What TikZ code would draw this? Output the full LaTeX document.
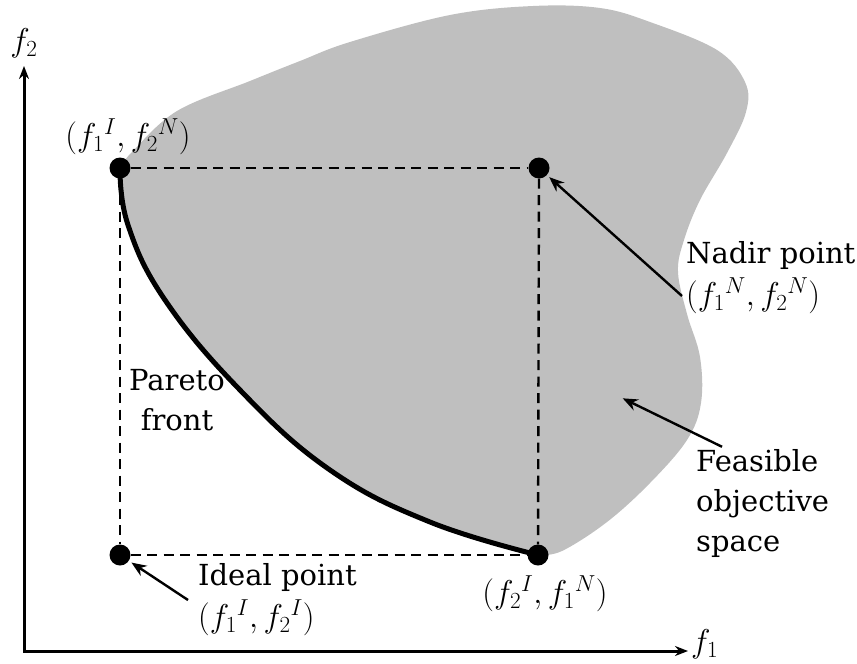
\RequirePackage{fix-cm}
\documentclass[tikz,border=0pt]{standalone}
\usepackage[no-math]{fontspec}
\setmainfont{DejaVu Serif}
\usetikzlibrary{arrows.meta,positioning}

\begin{document}
\begin{tikzpicture}[x=1pt,y=-1pt,>=Stealth,
  dot/.style={circle,fill=black,inner sep=0pt,minimum size=21pt},
  lbl/.style={font=\fontsize{29}{40}\selectfont,inner sep=0pt},
  mlbl/.style={font=\fontsize{33}{44}\selectfont,inner sep=0pt},
  guide/.style={line width=2.4pt,dash pattern=on 10pt off 6.5pt},
  ptr/.style={->,line width=2.4pt,>={Stealth[length=15pt,width=12pt]},shorten >=3pt},
  axis/.style={<->,line width=3pt,>={Stealth[length=13pt,width=10pt]}}]
\useasboundingbox (0,0) rectangle (857,664);
\fill[black!25] plot[smooth,tension=0.6] coordinates {(120,168) (132,152) (177,111) (250,81) (300,61) (350,42) (450,15) (533,6) (600,8) (650,22) (717,50) (745,82) (746,112) (727,153) (700,200) (684,240) (678,272) (687,314) (700,357) (701,403) (687,440) (650,483) (607,522) (562,551) (538,555)}
  -- plot[smooth,tension=0.7] coordinates {(538,555) (430,522) (330,470) (240,390) (165,300) (128,225) (120,168)} -- cycle;
\draw[line width=5pt] plot[smooth,tension=0.7] coordinates {(120,168) (128,225) (165,300) (240,390) (330,470) (430,522) (538,555)};
\node[dot] (ptop) at (120,168) {};
\node[dot] (pnadir) at (539,168) {};
\node[dot] (pideal) at (120,555) {};
\node[dot] (pbot) at (538,555) {};
\draw[guide] (ptop) -- (pnadir);
\draw[guide] (ptop) -- (pideal);
\draw[guide] (pideal) -- (pbot);
\draw[guide] (pnadir) -- (pbot);
\coordinate (origin) at (24,651);
\coordinate (xend) at (688,651);
\coordinate (yend) at (24,66);
\draw[axis] (yend) -- (origin) -- (xend);
\node[mlbl,anchor=west] (lblf1) at ([xshift=3pt,yshift=7pt]xend) {$f_1$};
\node[mlbl,above=8pt of yend] (lblf2) {$f_2$};
\node[mlbl] (lbltop) at (128,137) {$(f_1{}^{I}, f_2{}^{N})$};
\node[mlbl] (lblbot) at (545,594) {$(f_2{}^{I}, f_1{}^{N})$};
\node[lbl,align=left,anchor=west] (nadirtxt) at (686,278) {Nadir point\\[2pt]{\fontsize{33}{40}\selectfont$(f_1{}^{N}, f_2{}^{N})$}};
\node[lbl,align=left,anchor=west] (idealtxt) at (198,600) {Ideal point\\[2pt]{\fontsize{33}{40}\selectfont$(f_1{}^{I}, f_2{}^{I})$}};
\node[lbl,align=center] (paretotxt) at (177,400) {Pareto\\front};
\node[lbl,align=left,anchor=west] (feastxt) at (696,503) {Feasible\\objective\\space};
\coordinate (feaspt) at (620,397);
\draw[ptr] (nadirtxt.west) ++(-4pt,-18pt) -- (pnadir);
\draw[ptr] ([xshift=-10pt]idealtxt.west) -- (pideal);
\draw[ptr] ([xshift=26pt,yshift=2pt]feastxt.north west) -- (feaspt);
\end{tikzpicture}
\end{document}
